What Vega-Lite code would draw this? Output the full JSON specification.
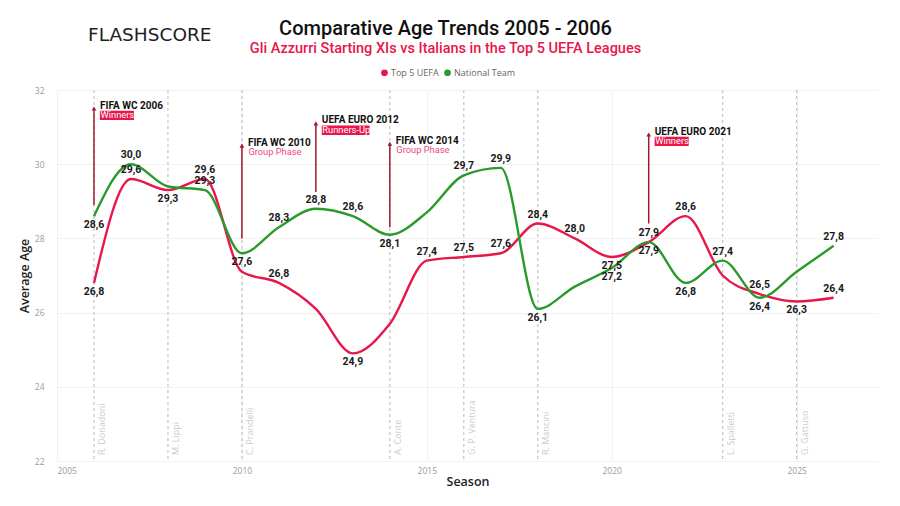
{
  "$schema": "https://vega.github.io/schema/vega-lite/v6.json",
  "width": 821,
  "height": 371,
  "autosize": {"type": "none"},
  "padding": {"left": 57, "top": 90, "right": 22, "bottom": 45},
  "background": "white",
  "title": {
    "text": "Comparative Age Trends 2005 - 2006",
    "subtitle": "Gli Azzurri Starting XIs vs Italians in the Top 5 UEFA Leagues",
    "anchor": "middle",
    "dx": -22,
    "offset": -29,
    "font": "Roboto",
    "fontSize": 20,
    "fontWeight": 500,
    "color": "#111111",
    "subtitleFont": "Roboto",
    "subtitleFontSize": 14.5,
    "subtitleFontWeight": 500,
    "subtitleColor": "#e8164a",
    "subtitlePadding": 3
  },
  "config": {
    "view": {"stroke": null},
    "axis": {
      "labelFont": "Open Sans",
      "labelFontSize": 8.5,
      "labelColor": "#9a9a9a",
      "titleFont": "Open Sans",
      "titleFontSize": 12.5,
      "titleFontWeight": 600,
      "titleColor": "#222222",
      "gridColor": "#f1f1f1",
      "gridWidth": 1,
      "domain": false,
      "ticks": false
    }
  },
  "datasets": {
    "ages": [
      {"Season": 2006, "Series": "Top 5 UEFA", "Age": 26.8, "label": "26,8"},
      {"Season": 2007, "Series": "Top 5 UEFA", "Age": 29.6, "label": "29,6"},
      {"Season": 2008, "Series": "Top 5 UEFA", "Age": 29.3, "label": "29,3"},
      {"Season": 2009, "Series": "Top 5 UEFA", "Age": 29.6, "label": "29,6"},
      {"Season": 2010, "Series": "Top 5 UEFA", "Age": 27.1, "label": null},
      {"Season": 2011, "Series": "Top 5 UEFA", "Age": 26.8, "label": "26,8"},
      {"Season": 2012, "Series": "Top 5 UEFA", "Age": 26.1, "label": null},
      {"Season": 2013, "Series": "Top 5 UEFA", "Age": 24.9, "label": "24,9"},
      {"Season": 2014, "Series": "Top 5 UEFA", "Age": 25.7, "label": null},
      {"Season": 2015, "Series": "Top 5 UEFA", "Age": 27.4, "label": "27,4"},
      {"Season": 2016, "Series": "Top 5 UEFA", "Age": 27.5, "label": "27,5"},
      {"Season": 2017, "Series": "Top 5 UEFA", "Age": 27.6, "label": "27,6"},
      {"Season": 2018, "Series": "Top 5 UEFA", "Age": 28.4, "label": "28,4"},
      {"Season": 2019, "Series": "Top 5 UEFA", "Age": 28.0, "label": "28,0"},
      {"Season": 2020, "Series": "Top 5 UEFA", "Age": 27.5, "label": "27,5"},
      {"Season": 2021, "Series": "Top 5 UEFA", "Age": 27.9, "label": "27,9"},
      {"Season": 2022, "Series": "Top 5 UEFA", "Age": 28.6, "label": "28,6"},
      {"Season": 2023, "Series": "Top 5 UEFA", "Age": 27.0, "label": null},
      {"Season": 2024, "Series": "Top 5 UEFA", "Age": 26.5, "label": "26,5"},
      {"Season": 2025, "Series": "Top 5 UEFA", "Age": 26.3, "label": "26,3"},
      {"Season": 2026, "Series": "Top 5 UEFA", "Age": 26.4, "label": "26,4"},
      {"Season": 2006, "Series": "National Team", "Age": 28.6, "label": "28,6"},
      {"Season": 2007, "Series": "National Team", "Age": 30.0, "label": "30,0"},
      {"Season": 2008, "Series": "National Team", "Age": 29.4, "label": null},
      {"Season": 2009, "Series": "National Team", "Age": 29.3, "label": "29,3"},
      {"Season": 2010, "Series": "National Team", "Age": 27.6, "label": "27,6"},
      {"Season": 2011, "Series": "National Team", "Age": 28.3, "label": "28,3"},
      {"Season": 2012, "Series": "National Team", "Age": 28.8, "label": "28,8"},
      {"Season": 2013, "Series": "National Team", "Age": 28.6, "label": "28,6"},
      {"Season": 2014, "Series": "National Team", "Age": 28.1, "label": "28,1"},
      {"Season": 2015, "Series": "National Team", "Age": 28.7, "label": null},
      {"Season": 2016, "Series": "National Team", "Age": 29.7, "label": "29,7"},
      {"Season": 2017, "Series": "National Team", "Age": 29.9, "label": "29,9"},
      {"Season": 2018, "Series": "National Team", "Age": 26.1, "label": "26,1"},
      {"Season": 2019, "Series": "National Team", "Age": 26.7, "label": null},
      {"Season": 2020, "Series": "National Team", "Age": 27.2, "label": "27,2"},
      {"Season": 2021, "Series": "National Team", "Age": 27.9, "label": "27,9"},
      {"Season": 2022, "Series": "National Team", "Age": 26.8, "label": "26,8"},
      {"Season": 2023, "Series": "National Team", "Age": 27.4, "label": "27,4"},
      {"Season": 2024, "Series": "National Team", "Age": 26.4, "label": "26,4"},
      {"Season": 2025, "Series": "National Team", "Age": 27.1, "label": null},
      {"Season": 2026, "Series": "National Team", "Age": 27.8, "label": "27,8"}
    ],
    "events": [
      {"Season": 2006, "from": 28.9, "to": 31.5, "event": "FIFA WC 2006", "result": "Winners"},
      {"Season": 2010, "from": 28.0, "to": 30.5, "event": "FIFA WC 2010", "result": "Group Phase"},
      {"Season": 2012, "from": 29.25, "to": 31.1, "event": "UEFA EURO 2012", "result": "Runners-Up"},
      {"Season": 2014, "from": 28.3, "to": 30.55, "event": "FIFA WC 2014", "result": "Group Phase"},
      {"Season": 2021, "from": 28.4, "to": 30.8, "event": "UEFA EURO 2021", "result": "Winners"}
    ],
    "coaches": [
      {"Season": 2006, "coach": "R. Donadoni"},
      {"Season": 2008, "coach": "M. Lippi"},
      {"Season": 2010, "coach": "C. Prandelli"},
      {"Season": 2014, "coach": "A. Conte"},
      {"Season": 2016, "coach": "G. P. Ventura"},
      {"Season": 2018, "coach": "R. Mancini"},
      {"Season": 2023, "coach": "L. Spalletti"},
      {"Season": 2025, "coach": "G. Gattuso"}
    ]
  },
  "layer": [
    {
      "data": {"name": "coaches"},
      "mark": {"type": "rule", "color": "#c4c4c4", "strokeDash": [3, 3], "strokeWidth": 1.2},
      "encoding": {
        "x": {
          "field": "Season",
          "type": "quantitative",
          "scale": {"domain": [2005, 2027.2], "nice": false, "zero": false},
          "axis": {"values": [2005, 2010, 2015, 2020, 2025], "format": "d", "title": "Season", "labelPadding": 5, "titlePadding": 1, "grid": true}
        }
      }
    },
    {
      "data": {"name": "coaches"},
      "mark": {"type": "text", "angle": 270, "align": "left", "baseline": "middle", "dx": 6, "dy": 8, "font": "Open Sans", "fontSize": 9, "color": "#cccccc"},
      "encoding": {
        "x": {"field": "Season", "type": "quantitative"},
        "y": {"datum": 22, "type": "quantitative"},
        "text": {"field": "coach"}
      }
    },
    {
      "data": {"name": "events"},
      "mark": {"type": "rule", "color": "#a0182f", "strokeWidth": 1.5},
      "encoding": {
        "x": {"field": "Season", "type": "quantitative"},
        "y": {"field": "from", "type": "quantitative"},
        "y2": {"field": "to"}
      }
    },
    {
      "data": {"name": "events"},
      "mark": {"type": "point", "shape": "triangle-up", "filled": true, "size": 22, "color": "#a0182f", "opacity": 1},
      "encoding": {
        "x": {"field": "Season", "type": "quantitative"},
        "y": {"field": "to", "type": "quantitative"}
      }
    },
    {
      "data": {"name": "ages"},
      "mark": {"type": "line", "interpolate": "monotone", "strokeWidth": 2.4},
      "encoding": {
        "x": {"field": "Season", "type": "quantitative"},
        "y": {
          "field": "Age",
          "type": "quantitative",
          "scale": {"domain": [22, 32], "nice": false, "zero": false},
          "axis": {"values": [22, 24, 26, 28, 30, 32], "title": "Average Age", "labelPadding": 13, "titlePadding": 3, "grid": true}
        },
        "color": {
          "field": "Series",
          "type": "nominal",
          "scale": {"domain": ["Top 5 UEFA", "National Team"], "range": ["#e8164a", "#2a9a2a"]},
          "legend": {
            "orient": "none",
            "legendX": 323,
            "legendY": -22,
            "direction": "horizontal",
            "title": null,
            "symbolType": "circle",
            "symbolSize": 45,
            "labelFont": "Open Sans",
            "labelFontSize": 9,
            "labelColor": "#666666",
            "columnPadding": 4,
            "labelOffset": 2,
            "encode": {
              "symbols": {
                "update": {
                  "fill": {"scale": "color", "field": "value"},
                  "stroke": {"value": "transparent"},
                  "strokeWidth": {"value": 0}
                }
              }
            }
          }
        },
        "order": {"field": "Season", "type": "quantitative"}
      }
    },
    {
      "data": {"name": "ages"},
      "transform": [
        {"window": [{"op": "lag", "field": "Age", "as": "prev"}, {"op": "lead", "field": "Age", "as": "next"}], "groupby": ["Series"], "sort": [{"field": "Season"}]},
        {"calculate": "(datum.prev == null || datum.Age <= datum.prev) && (datum.next == null || datum.Age <= datum.next)", "as": "isMin"},
        {"calculate": "datum.Series == 'Top 5 UEFA' && datum.isMin ? 1 : 0", "as": "redMin"},
        {"joinaggregate": [{"op": "min", "field": "Age", "as": "lo"}, {"op": "max", "field": "Age", "as": "hi"}, {"op": "max", "field": "redMin", "as": "redMinS"}], "groupby": ["Season"]},
        {"filter": "datum.label != null"},
        {"calculate": "datum.isMin || (datum.Series == 'National Team' && datum.hi - datum.lo <= 0.35 && (datum.redMinS == 1 || datum.hi - datum.lo < 0.05))", "as": "below"},
        {"filter": "!datum.below"}
      ],
      "mark": {"type": "text", "baseline": "middle", "dy": -9, "font": "Roboto", "fontWeight": "bold", "fontSize": 10.5, "color": "#1a1a1a"},
      "encoding": {
        "x": {"field": "Season", "type": "quantitative"},
        "y": {"field": "Age", "type": "quantitative"},
        "text": {"field": "label"}
      }
    },
    {
      "data": {"name": "ages"},
      "transform": [
        {"window": [{"op": "lag", "field": "Age", "as": "prev"}, {"op": "lead", "field": "Age", "as": "next"}], "groupby": ["Series"], "sort": [{"field": "Season"}]},
        {"calculate": "(datum.prev == null || datum.Age <= datum.prev) && (datum.next == null || datum.Age <= datum.next)", "as": "isMin"},
        {"calculate": "datum.Series == 'Top 5 UEFA' && datum.isMin ? 1 : 0", "as": "redMin"},
        {"joinaggregate": [{"op": "min", "field": "Age", "as": "lo"}, {"op": "max", "field": "Age", "as": "hi"}, {"op": "max", "field": "redMin", "as": "redMinS"}], "groupby": ["Season"]},
        {"filter": "datum.label != null"},
        {"calculate": "datum.isMin || (datum.Series == 'National Team' && datum.hi - datum.lo <= 0.35 && (datum.redMinS == 1 || datum.hi - datum.lo < 0.05))", "as": "below"},
        {"filter": "datum.below"}
      ],
      "mark": {"type": "text", "baseline": "middle", "dy": 9, "font": "Roboto", "fontWeight": "bold", "fontSize": 10.5, "color": "#1a1a1a"},
      "encoding": {
        "x": {"field": "Season", "type": "quantitative"},
        "y": {"field": "Age", "type": "quantitative"},
        "text": {"field": "label"}
      }
    },
    {
      "data": {"name": "events"},
      "transform": [
        {"filter": "datum.result != 'Group Phase'"},
        {"calculate": "datum.Season + 0.16", "as": "bx1"},
        {"calculate": "datum.Season + 0.22 + length(datum.result) * 0.123", "as": "bx2"},
        {"calculate": "datum.to - 0.06", "as": "by1"},
        {"calculate": "datum.to - 0.31", "as": "by2"}
      ],
      "mark": {"type": "rect", "color": "#e8164a"},
      "encoding": {
        "x": {"field": "bx1", "type": "quantitative"},
        "x2": {"field": "bx2"},
        "y": {"field": "by1", "type": "quantitative"},
        "y2": {"field": "by2"}
      }
    },
    {
      "data": {"name": "events"},
      "mark": {"type": "text", "align": "left", "baseline": "alphabetic", "dx": 6, "dy": 0, "font": "Roboto", "fontWeight": "bold", "fontSize": 10, "color": "#111111"},
      "encoding": {
        "x": {"field": "Season", "type": "quantitative"},
        "y": {"field": "to", "type": "quantitative"},
        "text": {"field": "event"}
      }
    },
    {
      "data": {"name": "events"},
      "mark": {"type": "text", "align": "left", "baseline": "alphabetic", "dx": 6.5, "dy": 9.5, "font": "Roboto", "fontSize": 9.3},
      "encoding": {
        "x": {"field": "Season", "type": "quantitative"},
        "y": {"field": "to", "type": "quantitative"},
        "text": {"field": "result"},
        "color": {"condition": {"test": "datum.result == 'Group Phase'", "value": "#ee4a7c"}, "value": "#ffffff"}
      }
    },
    {
      "data": {"values": [{"brand": "FLASHSCORE"}]},
      "mark": {"type": "text", "align": "left", "baseline": "alphabetic", "font": "DejaVu Sans", "fontSize": 18.5, "color": "#1e1e1e"},
      "encoding": {
        "x": {"datum": 2005.84, "type": "quantitative"},
        "y": {"datum": 33.32, "type": "quantitative"},
        "text": {"field": "brand"}
      }
    }
  ]
}
